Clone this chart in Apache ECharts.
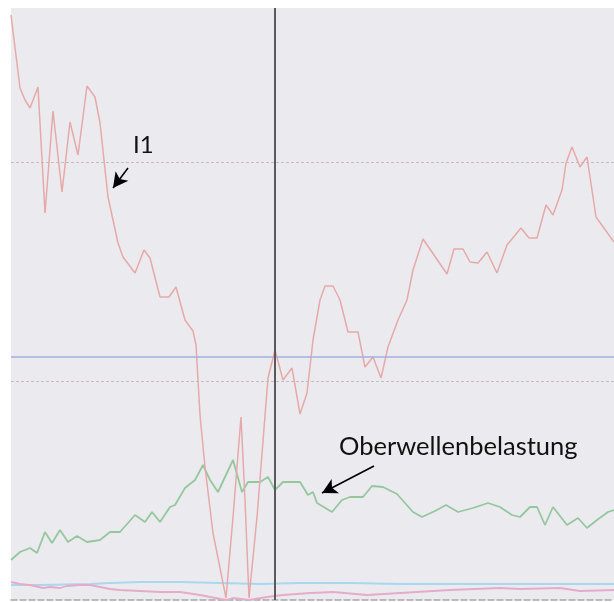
<!DOCTYPE html>
<html>
<head>
<meta charset="utf-8">
<script src="https://cdn.jsdelivr.net/npm/echarts@6/dist/echarts.min.js"></script>
<style>
  html, body { margin: 0; padding: 0; background: #ffffff; }
  #chart { width: 614px; height: 602px; }
</style>
</head>
<body>
<div id="chart"></div>
<script>
// Phase current I1 (time index, level)
const i1Time = [0,9,14,19,27,34,42,51,59,67,76,84,89,97,107,112,124,133,139,149,158,165,174,182,185,189,194,202,215,222,230,234,238,246,257,264,272,281,289,296,302,309,314,322,329,337,347,354,362,370,377,387,396,402,412,436,443,452,459,467,476,486,496,510,518,526,535,542,551,555,561,569,576,585,603];
const i1Value = [585,512,500,492,513,387,489,408,478,445,514,503,477,403,357,343,327,350,342,303,303,313,280,269,255,185,133,67,2,83,183,100,2,83,222,250,220,232,186,207,260,300,314,314,300,268,268,233,243,222,253,280,300,330,361,326,351,351,338,337,348,327,355,372,362,362,395,385,410,437,453,433,443,383,358];

// Harmonic load (Oberwellenbelastung)
const ohTime = [0,9,19,26,34,41,49,57,66,76,89,99,109,124,134,141,149,159,164,174,184,192,199,207,222,231,237,249,257,264,272,289,297,302,306,321,331,339,352,361,372,386,402,411,424,435,447,462,477,489,501,509,519,526,534,542,556,567,576,586,597,603];
const ohValue = [40,48,52,47,68,57,70,58,64,58,60,68,68,85,78,88,78,93,95,112,120,135,120,108,140,108,118,118,123,110,118,118,105,108,97,88,100,103,103,114,113,106,88,83,89,95,88,92,97,93,85,83,93,93,75,93,75,82,72,80,88,90];

// Low-level traces near the baseline
const cyanTime = [0,29,79,99,129,169,209,249,289,339,389,439,489,549,603];
const cyanValue = [15,15,16,17,18,18,17,16,17,17,16,16,16,16,16];
const pinkTime = [0,9,19,32,39,49,56,69,79,89,99,109,129,149,169,189,215,222,238,256,272,299,322,356,389,439,489,509,549,569,603];
const pinkValue = [18,16,15,12,13,12,14,15,15,13,11,10,9,8,8,5,0,2,0,3,5,7,8,5,7,10,12,11,12,9,10];

// Reference levels and cursor
const limitLevel = 243;
const cursorTime = 264;
const gridStep = 219;

// Annotation arrows: [from, to] as [time, level]
const i1Arrow = [[117, 432], [102, 412]];
const ohArrow = [[363, 134], [311, 107]];

const zip = (t, v) => t.map((x, i) => [x, v[i]]);

const chart = echarts.init(document.getElementById('chart'), null, { renderer: 'canvas' });

const arrowLine = (pts) => ({
  symbol: ['none', 'arrow'],
  symbolSize: [12, 15],
  silent: true,
  label: { show: false },
  lineStyle: { color: '#000000', width: 1.6, type: 'solid' },
  emphasis: { disabled: true },
  data: [[{ coord: pts[0] }, { coord: pts[1] }]]
});

chart.setOption({
  animation: false,
  backgroundColor: '#ffffff',
  grid: {
    left: 11, top: 8, right: 0, bottom: 2,
    show: true, backgroundColor: '#ebebef', borderWidth: 0
  },
  xAxis: {
    type: 'value', min: 0, max: 603,
    axisLabel: { show: false }, axisTick: { show: false },
    splitLine: { show: false },
    axisLine: { show: true, lineStyle: { color: '#a8a6a8', width: 1.5, type: [6, 3] } }
  },
  yAxis: {
    type: 'value', min: 0, max: 592, interval: gridStep,
    axisLabel: { show: false }, axisTick: { show: false }, axisLine: { show: false },
    splitLine: {
      show: true, showMinLine: false, showMaxLine: false,
      lineStyle: { color: ['#c6bcbf'], width: 1, type: [3, 2] }
    }
  },
  series: [
    {
      name: 'Grenze', type: 'line', data: [], silent: true,
      markLine: {
        symbol: 'none', silent: true, label: { show: false },
        lineStyle: { color: '#a0b0e0', width: 1.5, type: 'solid' },
        emphasis: { disabled: true },
        data: [{ yAxis: limitLevel }]
      }
    },
    {
      name: 'Cursor', type: 'line', data: [], silent: true, z: 5,
      markLine: {
        symbol: 'none', silent: true, label: { show: false },
        lineStyle: { color: '#5a5a5c', width: 2, type: 'solid' },
        emphasis: { disabled: true },
        data: [{ xAxis: cursorTime }]
      }
    },
    {
      name: 'Cyan', type: 'line', data: zip(cyanTime, cyanValue),
      showSymbol: false, silent: true,
      lineStyle: { color: '#aad6ee', width: 2.2 }
    },
    {
      name: 'Pink', type: 'line', data: zip(pinkTime, pinkValue),
      showSymbol: false, silent: true,
      lineStyle: { color: '#e6abc9', width: 1.8 }
    },
    {
      name: 'Oberwellenbelastung', type: 'line', data: zip(ohTime, ohValue),
      showSymbol: false, silent: true,
      lineStyle: { color: '#95c79f', width: 1.8 },
      markLine: arrowLine(ohArrow)
    },
    {
      name: 'I1', type: 'line', data: zip(i1Time, i1Value),
      showSymbol: false, silent: true,
      lineStyle: { color: '#e6a9a9', width: 1.5 },
      markLine: arrowLine(i1Arrow)
    }
  ],
  graphic: [
    {
      type: 'text', left: 133, top: 133, silent: true,
      style: { text: 'I1', fill: '#111111', font: '24px Lato' }
    },
    {
      type: 'text', left: 339, top: 434, silent: true,
      style: { text: 'Oberwellenbelastung', fill: '#111111', font: '25.5px Lato' }
    }
  ]
});
</script>
</body>
</html>
